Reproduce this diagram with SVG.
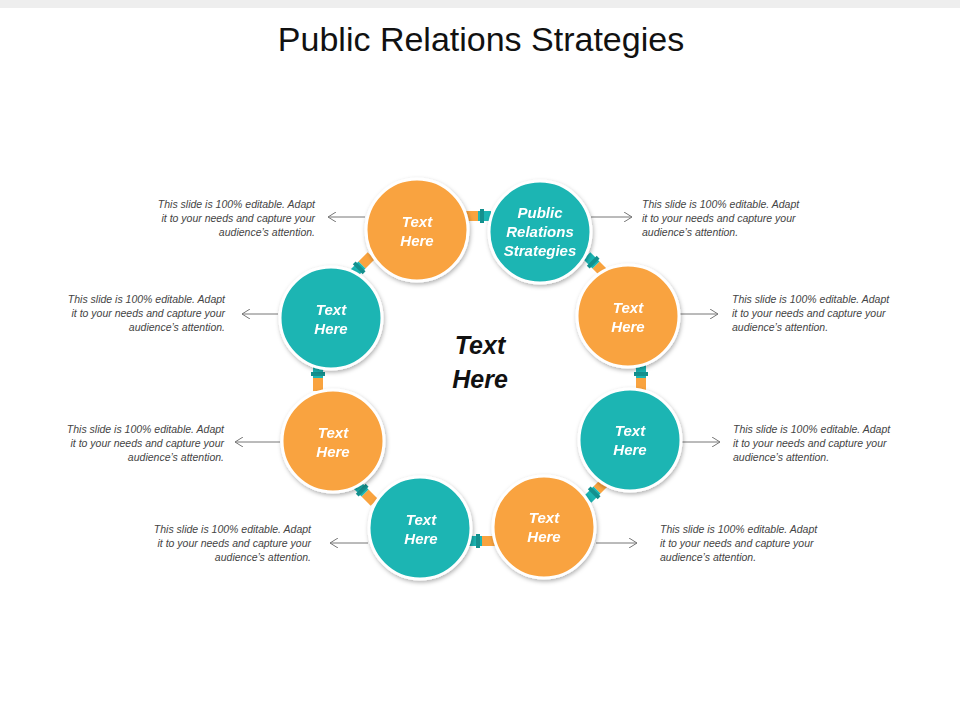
<svg xmlns="http://www.w3.org/2000/svg" width="960" height="720" viewBox="0 0 960 720">
<defs>
<style>
.o{fill:#F9A33F;stroke:#fff;stroke-width:3}
.t{fill:#1BB5B3;stroke:#fff;stroke-width:3}
.ct{font-family:"Liberation Sans",Arial,sans-serif;font-size:15px;font-weight:bold;font-style:italic;fill:#fff;text-anchor:middle}
.d{font-family:"Liberation Sans",Arial,sans-serif;font-size:10.5px;font-style:italic;fill:#444}
.l{text-anchor:end}
.ar{stroke:#777;stroke-width:1;fill:none;marker-end:url(#a)}
</style>
<marker id="a" markerWidth="10" markerHeight="10" refX="8" refY="5" orient="auto" markerUnits="userSpaceOnUse"><path d="M0,0 L8,5 L0,10" fill="none" stroke="#777"/></marker>
<filter id="s" x="-20%" y="-20%" width="140%" height="140%"><feDropShadow dx="1" dy="2" stdDeviation="2" flood-opacity="0.3"/></filter>
<g id="cn"><rect x="-13" y="-5" width="13" height="10" fill="#F9A33F"/><rect x="0" y="-5" width="13" height="10" fill="#1BB5B3"/><rect x="2" y="-7" width="4" height="14" fill="#14908E"/></g>
</defs>
<rect width="960" height="720" fill="#fff"/>
<rect width="960" height="8" fill="#eee"/>
<text x="481" y="51" font-family="Liberation Sans,Arial,sans-serif" font-size="34" fill="#111" text-anchor="middle">Public Relations Strategies</text>
<g id="connectors">
<use href="#cn" transform="translate(478,216) rotate(0)"/>
<use href="#cn" transform="translate(596,265) rotate(-135)"/>
<use href="#cn" transform="translate(641,378) rotate(-90)"/>
<use href="#cn" transform="translate(597,490) rotate(135)"/>
<use href="#cn" transform="translate(482,541) rotate(180)"/>
<use href="#cn" transform="translate(365,493) rotate(-135)"/>
<use href="#cn" transform="translate(318,378) rotate(-90)"/>
<use href="#cn" transform="translate(362,265) rotate(135)"/>
<path class="ar" d="M365,217 H328"/><path class="ar" d="M278,314 H242"/><path class="ar" d="M280,442 H235"/><path class="ar" d="M368,543 H330"/>
<path class="ar" d="M591,217 H632"/><path class="ar" d="M680,314 H718"/><path class="ar" d="M682,442 H720"/><path class="ar" d="M596,543 H637"/>
</g>
<g id="n1" filter="url(#s)"><circle class="t" cx="540" cy="232" r="51"/><text class="ct" x="540" y="218">Public</text><text class="ct" x="540" y="237" font-style="normal">Relations</text><text class="ct" x="540" y="256">Strategies</text></g>
<g id="n2" filter="url(#s)"><circle class="o" cx="417" cy="230" r="51"/><text class="ct" x="417" y="227">Text</text><text class="ct" x="417" y="246">Here</text></g>
<g id="n3" filter="url(#s)"><circle class="t" cx="331" cy="318" r="51"/><text class="ct" x="331" y="315">Text</text><text class="ct" x="331" y="334">Here</text></g>
<g id="n4" filter="url(#s)"><circle class="o" cx="333" cy="441" r="51"/><text class="ct" x="333" y="438">Text</text><text class="ct" x="333" y="457">Here</text></g>
<g id="n5" filter="url(#s)"><circle class="t" cx="420" cy="528" r="51"/><text class="ct" x="421" y="525">Text</text><text class="ct" x="421" y="544">Here</text></g>
<g id="n6" filter="url(#s)"><circle class="o" cx="544" cy="527" r="51"/><text class="ct" x="544" y="523">Text</text><text class="ct" x="544" y="542">Here</text></g>
<g id="n7" filter="url(#s)"><circle class="t" cx="630" cy="440" r="51"/><text class="ct" x="630" y="436">Text</text><text class="ct" x="630" y="455">Here</text></g>
<g id="n8" filter="url(#s)"><circle class="o" cx="628" cy="316" r="51"/><text class="ct" x="628" y="313">Text</text><text class="ct" x="628" y="332">Here</text></g>
<g id="center"><text x="480" y="354" font-family="Liberation Sans,Arial,sans-serif" font-size="25" font-weight="bold" font-style="italic" fill="#111" text-anchor="middle">Text</text><text x="480" y="388" font-family="Liberation Sans,Arial,sans-serif" font-size="25" font-weight="bold" font-style="italic" fill="#111" text-anchor="middle">Here</text></g>
<g id="descs">
<text class="d l" x="315" y="208">This slide is 100% editable. Adapt<tspan x="315" dy="14">it to your needs and capture your</tspan><tspan x="315" dy="14">audience’s attention.</tspan></text>
<text class="d l" x="225" y="303">This slide is 100% editable. Adapt<tspan x="225" dy="14">it to your needs and capture your</tspan><tspan x="225" dy="14">audience’s attention.</tspan></text>
<text class="d l" x="224" y="433">This slide is 100% editable. Adapt<tspan x="224" dy="14">it to your needs and capture your</tspan><tspan x="224" dy="14">audience’s attention.</tspan></text>
<text class="d l" x="311" y="533">This slide is 100% editable. Adapt<tspan x="311" dy="14">it to your needs and capture your</tspan><tspan x="311" dy="14">audience’s attention.</tspan></text>
<text class="d" x="642" y="208">This slide is 100% editable. Adapt<tspan x="642" dy="14">it to your needs and capture your</tspan><tspan x="642" dy="14">audience’s attention.</tspan></text>
<text class="d" x="732" y="303">This slide is 100% editable. Adapt<tspan x="732" dy="14">it to your needs and capture your</tspan><tspan x="732" dy="14">audience’s attention.</tspan></text>
<text class="d" x="733" y="433">This slide is 100% editable. Adapt<tspan x="733" dy="14">it to your needs and capture your</tspan><tspan x="733" dy="14">audience’s attention.</tspan></text>
<text class="d" x="660" y="533">This slide is 100% editable. Adapt<tspan x="660" dy="14">it to your needs and capture your</tspan><tspan x="660" dy="14">audience’s attention.</tspan></text>
</g>
</svg>
